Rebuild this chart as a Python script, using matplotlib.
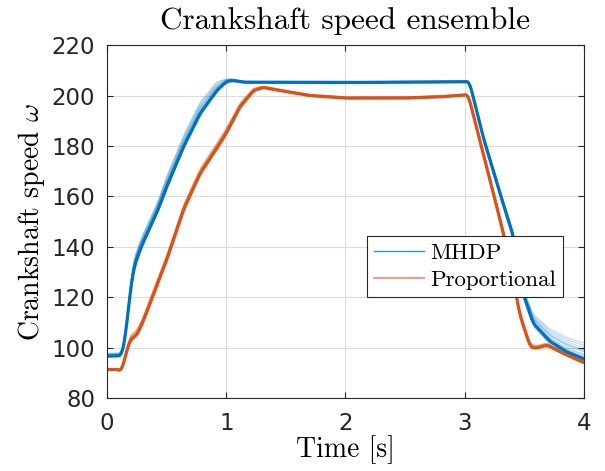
import numpy as np
import matplotlib
matplotlib.use("Agg")
import matplotlib.pyplot as plt
from matplotlib.lines import Line2D

# ---- data ----
t_mhdp = [0, 0.12, 0.15, 0.193, 0.22, 0.26, 0.305, 0.375, 0.43, 0.5, 0.64, 0.78, 0.92, 1.0, 1.05, 1.15,
          1.5, 2.0, 2.5, 3.0, 3.04, 3.155, 3.296, 3.41, 3.49, 3.575, 3.715, 3.85, 4.0]
v_mhdp = [96.6, 96.8, 103, 121.5, 130.7, 136.7, 142, 149.2, 155, 163.8, 179.6, 192.9, 202, 205.5, 206, 205.3,
          205.3, 205.2, 205.3, 205.5, 205.5, 183.6, 161.2, 144, 121.5, 109.6, 102.5, 98.5, 95.5]
s_mhdp = [0.8, 0.8, 1.0, 2.0, 2.5, 2.5, 2.5, 2.5, 2.5, 3.0, 3.2, 3.2, 2.5, 0.8, 0.5, 0.3,
          0.3, 0.3, 0.3, 0.3, 0.3, 1.0, 1.2, 1.2, 1.5, 2.5, 3.5, 4.0, 4.5]

t_prop = [0, 0.095, 0.12, 0.15, 0.193, 0.25, 0.3, 0.36, 0.5, 0.64, 0.78, 0.92, 1.0, 1.115, 1.23, 1.31,
          1.45, 1.7, 2.0, 2.5, 2.8, 3.03, 3.155, 3.27, 3.38, 3.46, 3.55, 3.6, 3.69, 3.8, 4.0]
v_prop = [91.3, 91.3, 90.5, 96, 103, 105, 110, 117.5, 134.7, 154.5, 169, 179, 185, 195.5, 202, 203.2,
          202, 200, 199, 199, 199.5, 200.3, 177, 155.8, 134.7, 113.5, 100.3, 99.7, 101, 98.3, 94.0]
s_prop = [0.3, 0.3, 0.5, 1.0, 1.5, 1.5, 1.5, 1.5, 1.5, 1.5, 1.5, 1.5, 1.5, 1.2, 0.8, 0.5,
          0.4, 0.4, 0.4, 0.4, 0.4, 0.4, 1.2, 1.2, 1.2, 1.2, 1.0, 0.8, 0.6, 0.6, 0.6]

member_offsets = [-0.4, -0.2, 0.0, 0.2, 0.4, 0.6, 0.8, 1.0, 1.2, 1.4, 0.3, 0.7]

x_ticks = [0, 1, 2, 3, 4]
y_ticks = [80, 100, 120, 140, 160, 180, 200, 220]

# ---- style ----
plt.rcParams['mathtext.fontset'] = 'cm'
serif = 'cmr10'
blue = '#0072BD'
orange = '#D95319'
dark = '#262626'

fig = plt.figure(figsize=(6.05, 4.71), dpi=100)
ax = fig.add_axes([0.177, 0.155, 0.788, 0.749])

t = np.linspace(0, 4, 801)


def smooth(y, n=9):
    pad = n // 2
    yp = np.concatenate([np.full(pad, y[0]), y, np.full(pad, y[-1])])
    return np.convolve(yp, np.ones(n) / n, mode='valid')


for k in member_offsets:
    yb = smooth(np.interp(t, t_mhdp, np.array(v_mhdp) + k * np.array(s_mhdp)))
    ax.plot(t, yb, color=blue, lw=0.7, alpha=0.3)
for k in member_offsets:
    yo = smooth(np.interp(t, t_prop, np.array(v_prop) + k * np.array(s_prop)))
    ax.plot(t, yo, color=orange, lw=0.7, alpha=0.3)

ax.plot(t, smooth(np.interp(t, t_mhdp, v_mhdp)), color=blue, lw=2.3)
ax.plot(t, smooth(np.interp(t, t_prop, v_prop)), color=orange, lw=2.3)

ax.set_xlim(0, 4)
ax.set_ylim(80, 220)
ax.set_xticks(x_ticks)
ax.set_yticks(y_ticks)
ax.grid(True, color='#dcdcdc', lw=0.8)
ax.set_axisbelow(True)
ax.tick_params(direction='in', length=4, width=0.8, colors=dark, labelsize=16.5,
               top=True, right=True)
ax.tick_params(axis='x', pad=10)
ax.tick_params(axis='y', pad=8.5)
for s in ax.spines.values():
    s.set_color(dark)
    s.set_linewidth(0.8)

ax.set_title('Crankshaft speed ensemble', fontfamily=serif, fontsize=22.5, pad=12)
ax.set_xlabel('Time [s]', fontfamily=serif, fontsize=20, labelpad=0)
ax.set_ylabel(r'Crankshaft speed $\omega$', fontfamily=serif, fontsize=20, labelpad=3)

hb = Line2D([], [], color='#3a8fcf', lw=1.0)
ho = Line2D([], [], color='#eda283', lw=1.5)
leg = ax.legend([hb, ho], ['MHDP', 'Proportional'], loc='upper left',
                bbox_to_anchor=(0.545, 0.459), borderaxespad=0, fancybox=False,
                framealpha=1, edgecolor=dark, prop={'family': serif, 'size': 16.5},
                handlelength=2.2, borderpad=0.3, labelspacing=0.32, handletextpad=0.25)
leg.get_frame().set_linewidth(0.8)

fig.savefig('out.png', dpi=100)
